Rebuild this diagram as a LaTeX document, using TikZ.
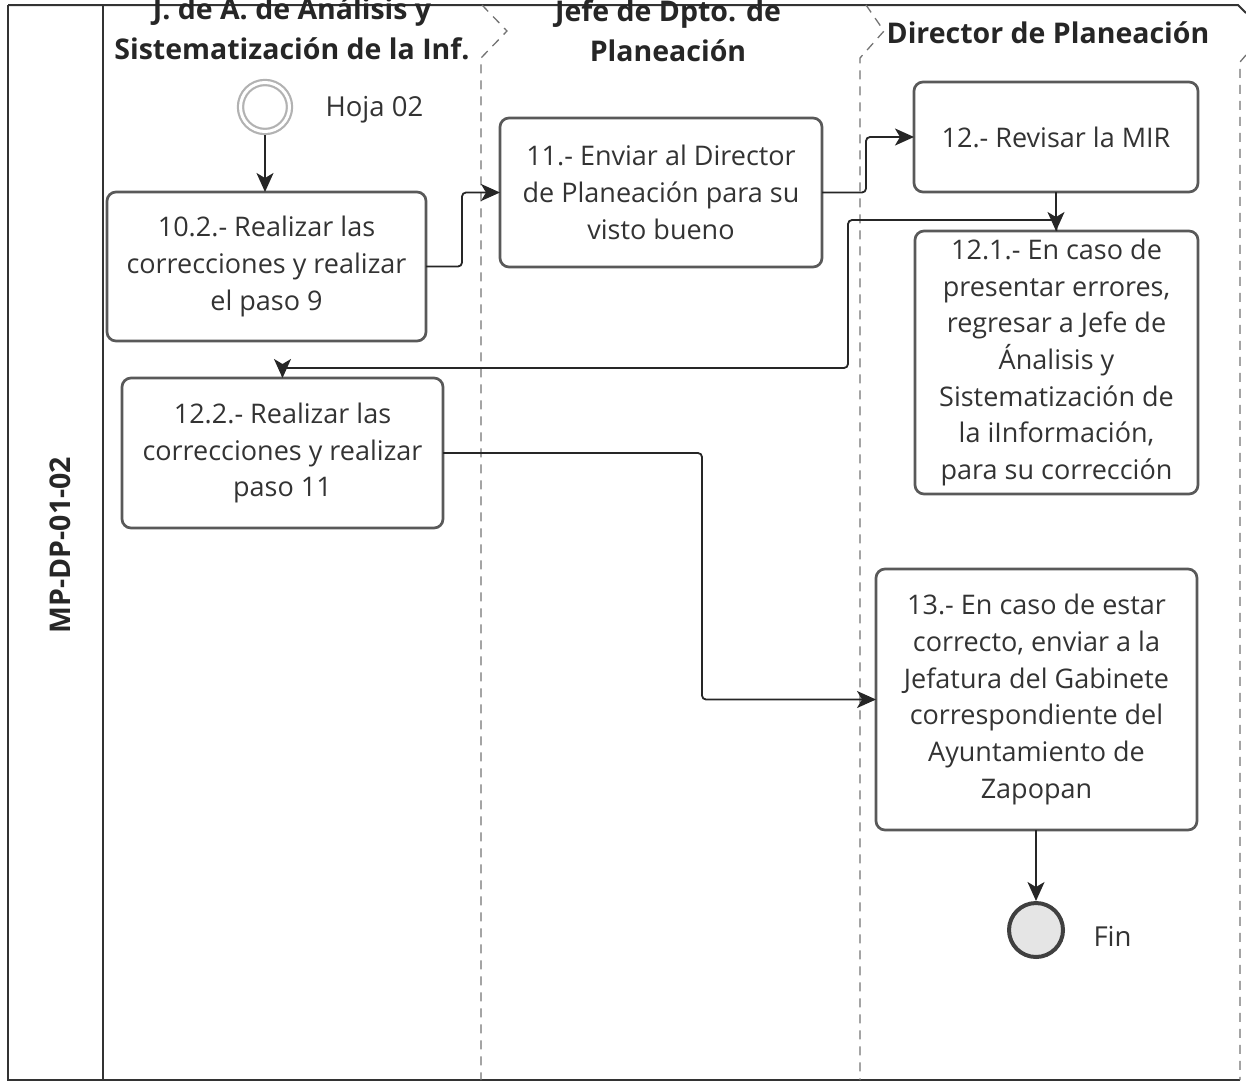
\documentclass[tikz,border=0pt]{standalone}
\usepackage{fontspec}
\setmainfont{Open Sans}
\usetikzlibrary{arrows.meta}

\tikzset{
  paso/.style={draw=black!65, line width=2.7pt, rounded corners=9pt, align=center,
    text=black!80, font=\fontsize{27}{36.7}\selectfont, inner sep=0pt, outer sep=0pt},
  flecha/.style={draw=black!85, line width=1.8pt, rounded corners=4pt,
    -{Stealth[length=19pt,width=17pt,inset=5pt]}},
  carril/.style={draw=black!55, line width=1.3pt, dash pattern=on 9pt off 7pt},
  marco/.style={draw=black!80, line width=2pt},
  titulo/.style={font=\bfseries\fontsize{28.5}{40}\selectfont, text=black!85, align=center},
  etiqueta/.style={font=\fontsize{27.5}{30}\selectfont, text=black!80, anchor=west},
}

\begin{document}
\begin{tikzpicture}[x=1pt, y=-1pt]
  \useasboundingbox (0,0) rectangle (1246,1084);
  \clip (0,0) rectangle (1246,1084);
  %%%%% POOL %%%%%
  \draw[marco] (8,5) -- (1238,5) -- (1246,13);
  \draw[marco] (8,5) -- (8,1080) -- (1240,1080);
  \draw[marco] (103,5) -- (103,1080);
  \draw[carril] (482,5) -- (507,31) -- (481,58) -- (481,1080);
  \draw[carril] (866,5) -- (884,31) -- (860,58) -- (860,1080);
  \draw[carril] (1246,55) -- (1240,62) -- (1240,1080);

  \node[titulo] (carril1) at (292,29) {J. de A. de Análisis y\\Sistematización de la Inf.};
  \node[titulo] (carril2) at (668,31) {Jefe de Dpto. de\\Planeación};
  \node[titulo] (carril3) at (1048,33) {Director de Planeación};
  \node[titulo, rotate=90] (codigo) at (60,545) {MP-DP-01-02};

  %%%%% EVENTS %%%%%
  \node[circle, draw=black!30, double=white, double distance=3pt, line width=2.2pt,
        minimum size=49pt, outer sep=3.5pt] (inicio) at (265,107) {};
  \node[etiqueta] (hoja) at (322,110) {Hoja 02};
  \node[circle, draw=black!75, fill=black!10, line width=4pt, minimum size=54pt,
        outer sep=2pt] (fin) at (1036,930) {};
  \node[etiqueta] (finlbl) at (1090,936) {Fin};

  %%%%% STEPS %%%%%
  \node[paso, minimum width=319pt, minimum height=149pt] (n102) at (266.5,266.5)
    {10.2.- Realizar las\\correcciones y realizar\\el paso 9};
  \node[paso, minimum width=322pt, minimum height=149pt] (n11) at (661,192.5)
    {11.- Enviar al Director\\de Planeación para su\\visto bueno};
  \node[paso, minimum width=284pt, minimum height=110pt] (n12) at (1056,137)
    {12.- Revisar la MIR};
  \node[paso, minimum width=283pt, minimum height=263pt] (n121) at (1056.5,362.5)
    {12.1.- En caso de\\presentar errores,\\regresar a Jefe de\\Ánalisis y\\Sistematización de\\la iInformación,\\para su corrección};
  \node[paso, minimum width=321pt, minimum height=150pt] (n122) at (282.5,453)
    {12.2.- Realizar las\\correcciones y realizar\\paso 11};
  \node[paso, minimum width=321pt, minimum height=261pt] (n13) at (1036.5,699.5)
    {13.- En caso de estar\\correcto, enviar a la\\Jefatura del Gabinete\\correspondiente del\\Ayuntamiento de\\Zapopan};

  %%%%% FLOWS %%%%%
  \coordinate (vuelta) at (848,368);
  \draw[flecha] (inicio.south) -- (n102.north -| inicio.south);
  \draw[flecha] (n102.east) -- ++(36,0) |- (n11.west);
  \draw[flecha] (n11.east) -- ++(44,0) |- (n12.west);
  \draw[flecha] (n12.south) -- (n12.south |- n121.north);
  \draw[flecha] (n121.north) -- ++(0,-11) -| (vuelta) -| (n122.north);
  \draw[flecha] (n122.east) -- ++(259,0) |- (n13.west);
  \draw[flecha] (n13.south -| fin.north) -- (fin.north);
\end{tikzpicture}
\end{document}
